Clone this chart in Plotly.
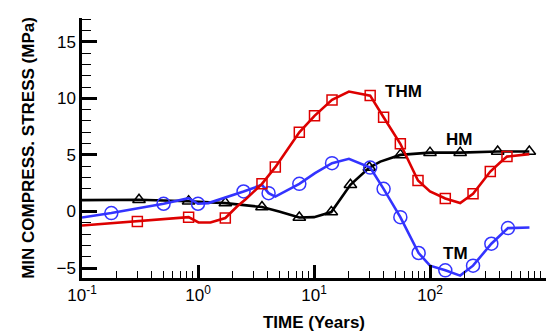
import math
import plotly.graph_objects as go

# ---- data (time in years, stress in MPa) ----
hm_time = [0.1, 0.31, 0.83, 1.72, 3.56, 5.0, 7.47, 10.0, 14.1, 20.6, 30.0, 37.3, 55.5, 100, 182, 383, 718]
hm_stress = [1.0, 1.03, 0.9, 0.74, 0.39, 0.0, -0.53, -0.5, -0.05, 2.36, 3.88, 4.41, 5.0, 5.2, 5.2, 5.3, 5.3]
hm_marker_idx = [1, 2, 3, 4, 6, 8, 9, 10, 12, 13, 14, 15, 16]

thm_time = [0.1, 0.30, 0.83, 1.01, 1.28, 1.72, 2.17, 2.56, 3.56, 4.64, 7.47, 10.1, 14.3, 20.0, 30.5,
            39.8, 55.5, 78.8, 100, 135.5, 182, 235, 331, 400, 461, 718]
thm_stress = [-1.24, -0.88, -0.5, -0.97, -0.97, -0.58, 0.44, 1.05, 2.44, 3.92, 7.0, 8.45, 9.86, 10.6, 10.24,
              8.33, 5.98, 2.74, 1.77, 1.15, 0.74, 1.56, 3.53, 4.3, 4.85, 5.07]
thm_marker_idx = [1, 2, 5, 8, 9, 10, 11, 12, 14, 15, 16, 17, 19, 21, 22, 24]

tm_time = [0.1, 0.179, 0.505, 0.83, 1.0, 1.23, 2.47, 3.56, 4.06, 4.64, 7.47, 10.2, 14.3, 20.0, 30.5,
           39.8, 55.5, 79.8, 100, 135.5, 182, 235, 338, 470, 720]
tm_stress = [-0.53, -0.14, 0.68, 1.18, 0.68, 0.74, 1.77, 2.35, 1.62, 1.32, 2.44, 3.39, 4.27, 4.65, 3.88,
             2.0, -0.5, -3.67, -4.79, -5.2, -5.67, -4.79, -2.85, -1.47, -1.41]
tm_marker_idx = [1, 2, 4, 6, 8, 10, 12, 14, 15, 16, 17, 19, 21, 22, 23]

series_labels = ["THM", "HM", "TM"]
label_time = [58.9, 177, 164.5]
label_stress = [10.56, 6.37, -3.69]

x_tick_vals = [0.1, 1, 10, 100, 1000]
x_tick_text = ["10<sup>-1</sup>", "10<sup>0</sup>", "10<sup>1</sup>", "10<sup>2</sup>", "10<sup>3</sup>"]
y_tick_vals = [-5, 0, 5, 10, 15]

FONT = "Liberation Sans, Arial, sans-serif"

fig = go.Figure()


def add_series(t, s, idx, color, symbol, msize):
    fig.add_trace(go.Scatter(x=t, y=s, mode="lines",
                             line=dict(color=color, width=2.6), showlegend=False, hoverinfo="skip"))
    fig.add_trace(go.Scatter(x=[t[i] for i in idx], y=[s[i] for i in idx], mode="markers",
                             marker=dict(symbol=symbol, size=msize, color=color,
                                         line=dict(color=color, width=1.5)),
                             showlegend=False))


add_series(hm_time, hm_stress, hm_marker_idx, "#000000", "triangle-up-open", 11)
add_series(tm_time, tm_stress, tm_marker_idx, "#3333FF", "circle-open", 13)
add_series(thm_time, thm_stress, thm_marker_idx, "#DD0000", "square-open", 10)

for lab, lt, ls in zip(series_labels, label_time, label_stress):
    fig.add_annotation(x=math.log10(lt), y=ls, text="<b>%s</b>" % lab, showarrow=False,
                       font=dict(family=FONT, size=17, color="black"))

minor_x = [m * 10 ** e for e in range(-1, 3) for m in range(2, 10)]

fig.update_xaxes(type="log", range=[-1, 3], showgrid=False, zeroline=False, automargin=False,
                 showline=True, linecolor="black", linewidth=2.5,
                 tickmode="array", tickvals=x_tick_vals, ticktext=x_tick_text,
                 ticks="inside", ticklen=13, tickwidth=2.5, tickcolor="black",
                 tickfont=dict(family=FONT, size=17, color="black"),
                 minor=dict(tickmode="array", tickvals=minor_x, ticks="inside",
                            ticklen=7, tickwidth=1.2, tickcolor="black", showgrid=False),
                 title=dict(text="<b>TIME (Years)</b>", font=dict(family=FONT, size=17, color="black"),
                            standoff=12))
fig.update_yaxes(range=[-5.88, 17.1], showgrid=False, zeroline=False, automargin=False,
                 showline=True, linecolor="black", linewidth=2.5,
                 tickmode="array", tickvals=y_tick_vals,
                 ticks="inside", ticklen=15, tickwidth=2.5, tickcolor="black",
                 tickfont=dict(family=FONT, size=17, color="black"),
                 minor=dict(dtick=1, tick0=0, ticks="inside", ticklen=9, tickwidth=1.2,
                            tickcolor="black", showgrid=False),
                 title=dict(text="<b>MIN COMPRESS. STRESS (MPa)</b>",
                            font=dict(family=FONT, size=17, color="black"), standoff=18))

# page body has an 8px default margin, so the figure is 8px smaller and offset
fig.update_layout(width=550, height=327, margin=dict(l=74, r=12, t=10, b=57),
                  plot_bgcolor="white", paper_bgcolor="white", showlegend=False)

fig.write_html("out.html")
